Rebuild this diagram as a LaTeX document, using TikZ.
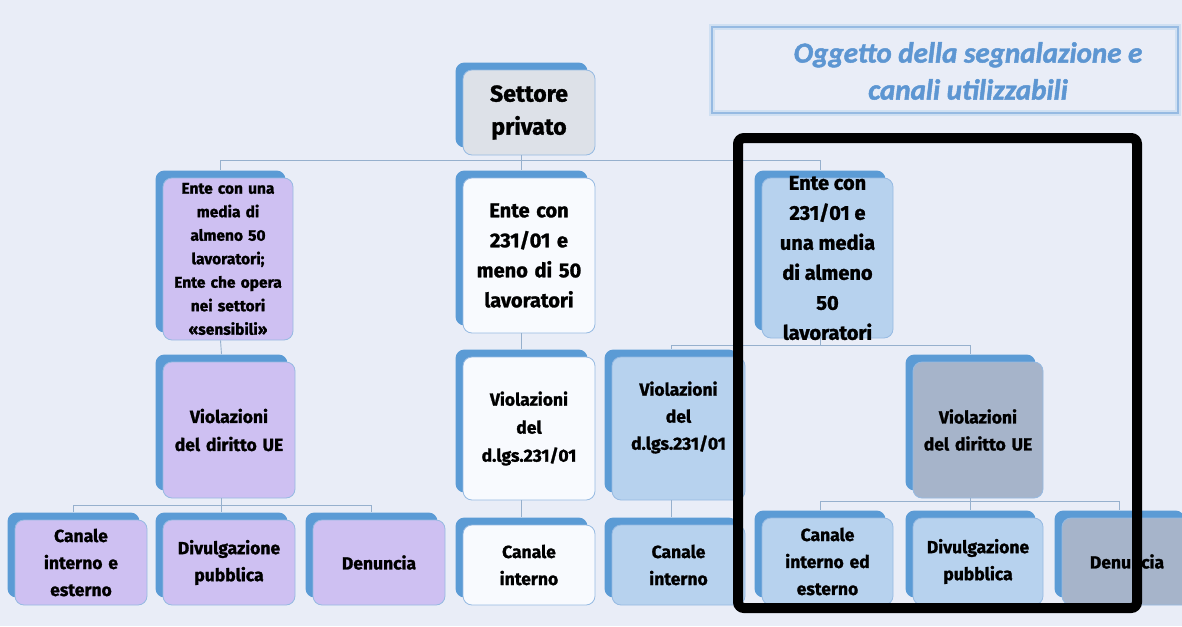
\documentclass[tikz,border=0pt]{standalone}
\usepackage{fontspec}
\setmainfont{Fira Sans}[BoldFeatures={FakeBold=1.3}]
\newfontfamily\titlefont{Carlito}[BoldItalicFeatures={FakeBold=1.6}]
\usetikzlibrary{shadows}
\definecolor{bgpage}{RGB}{233,237,247}
\definecolor{backblue}{RGB}{91,155,213}
\definecolor{lilac}{RGB}{206,192,242}
\definecolor{paleblue}{RGB}{183,210,238}
\definecolor{paper}{RGB}{248,250,254}
\definecolor{slate}{RGB}{166,180,202}
\definecolor{rootgrey}{RGB}{221,225,232}
\definecolor{edgeblue}{RGB}{150,186,226}
\definecolor{linkblue}{RGB}{150,176,205}
\definecolor{titleblue}{RGB}{93,150,210}
\newcommand\fsize[2]{\fontsize{#1}{#2}\selectfont}
\tikzset{
  card/.style={rounded corners=9pt, draw=edgeblue, line width=0.8pt, align=center,
    inner xsep=1pt, inner ysep=1pt, font=\bfseries,
    copy shadow={shadow xshift=-7.5pt, shadow yshift=7.5pt, fill=backblue, draw=none}},
  link/.style={draw=linkblue, line width=0.9pt},
}
\begin{document}
\begin{tikzpicture}[x=1pt, y=-1pt]
  \useasboundingbox (0,0) rectangle (1182,626);
  \fill[bgpage] (0,0) rectangle (1182,626);

  % title
  \node[draw=edgeblue!45, line width=6pt, minimum width=466, minimum height=86] (titleglow) at (945,70) {};
  \node[draw=edgeblue, line width=2pt, minimum width=466, minimum height=86] (title) at (945,70) {};
  \node[text=titleblue, align=center, font=\titlefont\bfseries\itshape\fsize{29}{37}] (titletxt) at (968,71)
    {Oggetto della segnalazione e\\canali utilizzabili};

  % level 0
  \node[card, fill=rootgrey, text width=130, minimum height=85, font=\bfseries\fsize{23}{33}] (root) at (529,112.5)
    {Settore\\privato};

  % level 1
  \node[card, fill=lilac, text width=128, minimum height=162, font=\bfseries\fsize{15.5}{23.5}] (entA) at (228,259)
    {Ente con una\\media di\\almeno 50\\lavoratori;\\Ente che opera\\nei settori\\«sensibili»};
  \node[card, fill=paper, text width=130, minimum height=155, font=\bfseries\fsize{20}{30}] (entB) at (529,255.5)
    {Ente con\\231/01 e\\meno di 50\\lavoratori};
  \node[card, fill=paleblue, minimum width=131, minimum height=160,
    label={[font=\bfseries\fsize{20}{30}, align=center]center:{Ente con\\231/01 e\\una media\\di almeno\\50\\lavoratori}}] (entC) at (827.5,258) {};

  % level 2
  \node[card, fill=lilac, text width=130, minimum height=136, font=\bfseries\fsize{17.5}{28}] (violA) at (229,430)
    {Violazioni\\del diritto UE};
  \node[card, fill=paper, text width=130, minimum height=143, font=\bfseries\fsize{17.5}{28}] (violB) at (529,428.5)
    {Violazioni\\del\\d.lgs.231/01};
  \node[card, fill=paleblue, minimum width=133, minimum height=143,
    label={[font=\bfseries\fsize{17.5}{27}, align=center, yshift=11pt]center:{Violazioni\\del\\d.lgs.231/01}}] (violC) at (678.5,428.5) {};
  \node[card, fill=slate, text width=128, minimum height=136, font=\bfseries\fsize{17.5}{27}] (violD) at (978,430)
    {Violazioni\\del diritto UE};

  % level 3
  \node[card, fill=lilac, text width=130, minimum height=85, font=\bfseries\fsize{17.5}{27}] (canA) at (81,562.5)
    {Canale\\interno e\\esterno};
  \node[card, fill=lilac, text width=130, minimum height=85, font=\bfseries\fsize{17.5}{27}] (divA) at (229,562.5)
    {Divulgazione\\pubblica};
  \node[card, fill=lilac, text width=130, minimum height=85, font=\bfseries\fsize{17.5}{27}] (denA) at (379,562.5)
    {Denuncia};
  \node[card, fill=paper, text width=130, minimum height=80, font=\bfseries\fsize{17.5}{27}] (canB) at (529,565)
    {Canale\\interno};
  \node[card, fill=paleblue, text width=131, minimum height=80, font=\bfseries\fsize{17.5}{27}] (canC) at (678.5,565)
    {Canale\\interno};
  \node[card, fill=paleblue, text width=129, minimum height=87, font=\bfseries\fsize{17.5}{27}] (canD) at (827.5,561.5)
    {Canale\\interno ed\\esterno};
  \node[card, fill=paleblue, text width=128, minimum height=87, font=\bfseries\fsize{17.5}{27}] (divD) at (978,561.5)
    {Divulgazione\\pubblica};
  \node[card, fill=slate, text width=128, minimum height=87, font=\bfseries\fsize{17.5}{27}] (denD) at (1127,561.5)
    {Denuncia};

  % connectors
  \foreach \c in {entA, entB, entC}
    \draw[link] ([xshift=-7.5pt]root.south) -- ++(0,5) -| ([xshift=-7.5pt, yshift=7.5pt]\c.north);
  \draw[link] ([xshift=-7.5pt]entA.south) -- ([xshift=-7.5pt, yshift=7.5pt]violA.north);
  \draw[link] ([xshift=-7.5pt]entB.south) -- ([xshift=-7.5pt, yshift=7.5pt]violB.north);
  \foreach \c in {violC, violD}
    \draw[link] ([xshift=-7.5pt]entC.south) -- ++(0,7) -| ([xshift=-7.5pt, yshift=7.5pt]\c.north);
  \foreach \c in {canA, divA, denA}
    \draw[link] ([xshift=-7.5pt]violA.south) -- ++(0,7) -| ([xshift=-7.5pt, yshift=7.5pt]\c.north);
  \draw[link] ([xshift=-7.5pt]violB.south) -- ([xshift=-7.5pt, yshift=7.5pt]canB.north);
  \draw[link] ([xshift=-7.5pt]violC.south) -- ([xshift=-7.5pt, yshift=7.5pt]canC.north);
  \foreach \c in {canD, divD, denD}
    \draw[link] ([xshift=-7.5pt]violD.south) -- ++(0,3) -| ([xshift=-7.5pt, yshift=7.5pt]\c.north);

  % highlight frame
  \draw[line width=10pt, rounded corners=6pt] (738,138) rectangle (1137,608);
\end{tikzpicture}
\end{document}
